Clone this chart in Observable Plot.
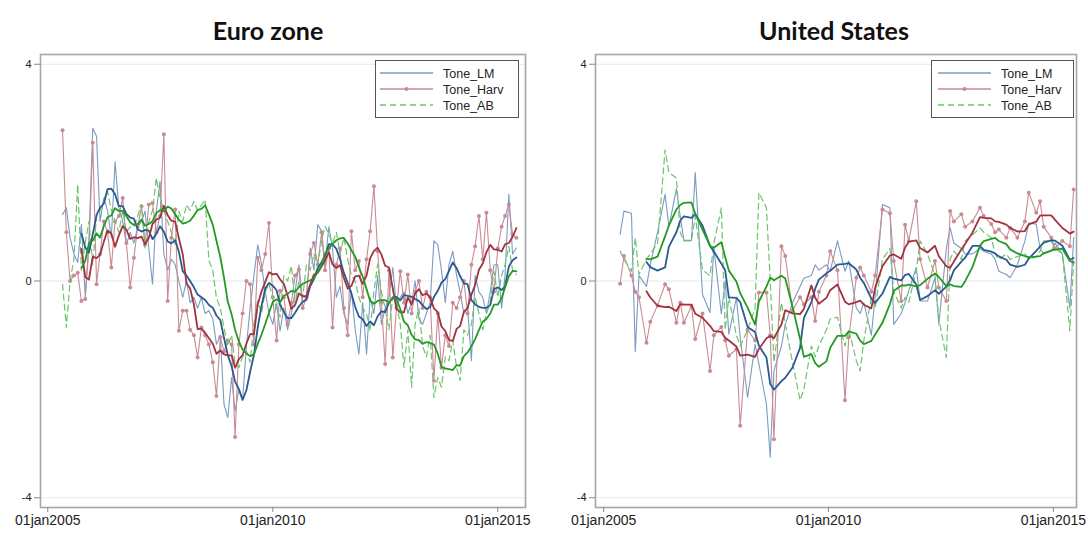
<!DOCTYPE html>
<html><head><meta charset="utf-8">
<script src="https://cdn.jsdelivr.net/npm/d3@7"></script>
<script src="https://cdn.jsdelivr.net/npm/@observablehq/plot@0.6"></script>
<style>
body{margin:0;background:#fff;}
#wrap{position:relative;width:1088px;height:533px;display:flex;}
.title{position:absolute;top:14px;line-height:32px;font-family:Lato,"Open Sans",sans-serif;font-weight:bold;font-size:25px;color:#111;text-align:center;width:300px;}
.legend{position:absolute;top:60px;}
svg{display:block;}
</style></head>
<body>
<div id="wrap"></div>
<script>
// ---- data -------------------------------------------------------------
const seriesNames = ["Tone_LM", "Tone_Harv", "Tone_AB"];
const panelTitles = ["Euro zone", "United States"];
const yTicks = [-4, 0, 4];
const xTickYears = [2005, 2010, 2015];

// Euro zone: monthly, May 2005 - Jun 2015
const euroLM = [1.23,1.35,0.8,0.5,0.34,1.04,-0.28,0.74,2.82,2.67,
1.1,1.53,1.3,0.8,2.2,1.35,1.1,0.67,0.9,0.7,
1.0,1.1,1.29,0.6,-0.06,1.29,1.84,0.5,0.2,0.4,
0.3,0.0,-0.3,0.0,-0.4,-0.3,-0.5,-0.3,-0.6,-0.55,
-0.7,-1.17,-1.0,-2.27,-2.52,-1.78,-2.4,-2.0,-2.2,-1.2,
-0.5,0.1,0.67,0.31,-0.2,-0.6,-0.8,-0.4,-0.92,-0.5,
-0.9,-0.6,-0.2,0.3,-0.4,-0.3,0.61,0.2,1.04,0.92,
0.3,1.0,0.6,-0.3,-0.1,-0.6,-0.8,-0.18,-0.9,-1.35,
-0.4,-1.35,-0.3,-0.6,0.1,-0.8,-0.5,-0.3,0.25,-0.5,
-0.3,-0.2,-0.6,-0.4,0.0,-0.7,-0.8,-0.6,-0.4,0.74,
0.67,0.2,-0.4,0.3,0.55,0.1,-0.2,-0.6,-0.5,-1.47,
0.1,-0.2,-0.3,-0.6,-0.2,0.3,0.3,-0.5,0.1,1.6,
0.5,0.61];
const euroHarv = [2.78,0.9,0.0,0.1,0.15,-0.37,-0.33,0.6,2.55,-0.06,
0.5,1.1,0.9,0.25,1.1,1.2,1.53,0.7,-0.12,0.43,
1.0,1.38,0.67,1.41,1.44,0.9,1.2,2.71,-0.37,0.8,
1.32,-0.92,-0.55,-0.55,-0.9,-1.0,-1.41,-0.86,-1.0,-1.17,
-1.5,-2.12,-1.04,-1.3,-1.1,-1.17,-2.88,-1.17,-0.6,0.0,
-0.06,-1.17,0.43,0.2,0.5,1.07,-0.3,-1.1,-0.18,-0.3,
-0.8,-0.4,0.1,0.21,-0.5,-0.3,0.5,0.7,0.3,0.9,
0.2,0.6,-0.86,0.3,0.6,-0.5,-1.0,0.92,0.2,0.37,
-0.3,0.4,0.92,1.75,0.55,-0.4,-1.53,0.2,-1.41,-0.5,
0.18,-0.4,0.12,-0.6,-0.2,0.0,-0.5,-0.2,-0.3,-1.84,
-0.6,-1.6,-1.0,-1.2,-0.4,-0.5,-0.3,0.0,-0.6,0.3,
0.64,1.2,0.4,1.26,0.2,-0.2,0.6,1.0,1.2,1.41,
0.86,0.8];
const euroAB = [-0.06,-0.86,0.0,0.4,1.78,0.2,0.7,1.1,0.3,1.2,
1.3,1.5,1.66,1.3,1.1,0.9,1.3,0.9,1.0,1.0,
1.2,1.41,0.61,1.1,1.3,1.9,1.53,1.3,1.1,0.9,
0.67,1.29,1.1,1.41,1.3,1.47,1.3,1.4,1.5,0.37,
0.2,-0.31,-0.5,-0.86,-1.2,-1.0,-1.53,-1.6,-1.4,-1.29,
-1.5,-0.8,-0.37,-0.6,-0.2,-0.06,-0.3,-0.5,-0.67,0.1,
0.0,0.28,-0.4,0.0,-0.3,0.3,0.2,0.5,0.3,0.74,
1.01,0.86,0.7,0.9,0.5,0.8,0.4,0.1,0.0,-0.3,
-0.5,-0.6,-0.92,-0.2,0.31,-0.2,-0.5,-0.9,-0.3,-0.4,
-0.8,-1.6,-0.9,-1.96,-0.8,-0.5,-1.2,-1.4,-1.0,-2.15,
-1.78,-1.96,-1.4,-1.47,-1.1,-1.6,-1.84,-0.9,-1.0,-0.8,
-0.3,-0.6,-0.9,-0.6,-0.4,0.18,-0.3,0.1,0.3,0.64,
0.2,0.12];

// United States: FOMC meetings, May 2005 - Jun 2015
const fomcMonths = [1, 3, 5, 6, 8, 9, 10, 12];
const usLM = [0.86,1.29,1.25,-1.3,0.1,-0.1,0.3,0.9,1.6,1.0,
1.7,1.2,0.75,0.75,2.0,-0.25,-0.58,0.61,-0.61,0.0,
-0.98,-0.31,-1.04,-2.15,-1.17,-1.53,-2.27,-3.25,-1.66,-1.2,
-0.8,-0.4,-0.1,0.05,0.1,0.3,0.2,0.3,0.18,0.74,
0.18,0.37,-0.5,-0.6,-0.4,-1.0,-0.3,1.41,1.35,-0.8,
-0.6,-0.4,-0.18,0.25,-0.37,-0.37,0.06,-0.8,0.6,0.98,
0.7,0.6,0.5,0.5,0.6,0.55,0.5,0.4,0.18,0.12,
0.06,0.3,0.74,1.07,1.05,0.6,0.5,0.55,0.7,0.5,
-0.5,0.8];
const usHarv = [-0.05,0.46,0.1,-0.2,-0.3,-1.14,-0.75,-0.45,-0.06,-0.15,
-0.77,-0.4,-0.77,-0.46,-1.07,-0.6,-1.66,-1.0,-0.85,-1.1,
-1.38,-1.26,-2.67,-0.9,-1.1,-0.21,-0.21,-1.0,-2.92,0.64,
0.46,-0.55,-0.3,-0.43,-0.3,-0.74,-0.2,0.1,0.55,0.2,
-2.2,-1.04,0.06,0.25,0.1,-0.2,0.1,1.32,1.25,0.37,
-0.37,1.04,0.74,1.47,0.4,-0.12,0.37,-0.12,-0.37,1.29,
1.1,1.23,1.0,1.1,1.35,1.2,1.05,0.9,0.95,0.8,
0.98,0.8,1.1,1.63,1.26,1.47,1.0,0.8,0.6,0.74,
0.64,1.69];
const usAB = [0.55,0.4,0.18,0.8,0.12,0.4,0.5,0.7,2.42,2.0,
1.9,0.9,0.74,0.74,1.2,0.2,0.1,0.7,1.35,-0.9,
-0.3,-1.0,-1.2,-0.9,-0.5,1.63,1.35,0.0,-1.5,-0.4,
-0.8,-1.5,-2.2,-2.0,-1.2,-1.4,-1.2,-0.9,-0.7,-0.67,
-1.2,-0.9,-1.47,-1.66,-1.1,-0.3,-0.5,0.4,0.6,-0.2,
-0.5,-0.3,-0.4,0.2,0.74,0.5,0.1,-0.7,-1.41,0.4,
0.55,0.4,0.74,0.85,0.98,0.9,0.8,0.5,0.4,0.5,
0.4,0.45,0.5,0.4,0.45,0.55,0.74,0.74,0.6,0.5,
-0.92,0.37];

// ---- dates ------------------------------------------------------------
const euroDates = d3.utcMonth.range(new Date(Date.UTC(2005, 4, 1)), new Date(Date.UTC(2015, 6, 1)));
const usDates = [];
for (let y = 2005; y <= 2015; y++) for (const mo of fomcMonths) {
  const d = new Date(Date.UTC(y, mo - 1, 15));
  if (d >= new Date(Date.UTC(2005, 4, 1)) && d <= new Date(Date.UTC(2015, 5, 30))) usDates.push(d);
}

// ---- styling ------------------------------------------------------------
const C = {
  lmRaw: "#7a9cc2", lm: "#2b5a91",
  harvRaw: "#c98b93", harv: "#a3323f",
  abRaw: "#6cc46c", ab: "#249a24"
};
const fmtX = d => d3.utcFormat("%d%b%Y")(d).toLowerCase();
const xTicks = xTickYears.map(y => new Date(Date.UTC(y, 0, 1)));

function rows(dates, values) { return dates.map((d, i) => ({date: d, value: values[i]})); }

function panel({lm, harv, ab, dates, domain, marginLeft, marginRight}) {
  const L = rows(dates, lm), H = rows(dates, harv), A = rows(dates, ab);
  const smooth = (data, opts) => Plot.lineY(data, Plot.windowY({k: 6, anchor: "end", reduce: "mean", strict: true}, {x: "date", y: "value", ...opts}));
  return Plot.plot({
    width: 544, height: 533,
    marginTop: 54, marginBottom: 26, marginLeft, marginRight,
    style: {fontFamily: "'Liberation Sans', Arial, sans-serif", background: "transparent", color: "#222"},
    x: {type: "utc", domain},
    y: {domain: [-4.18, 4.18]},
    marks: [
      Plot.ruleY(yTicks, {stroke: "#e2e9ee", strokeWidth: 1}),
      Plot.lineY(L, {x: "date", y: "value", stroke: C.lmRaw, strokeWidth: 1.1}),
      Plot.lineY(H, {x: "date", y: "value", stroke: C.harvRaw, strokeWidth: 1.1}),
      Plot.dot(H, {x: "date", y: "value", r: 2, fill: C.harvRaw, stroke: "none"}),
      Plot.lineY(A, {x: "date", y: "value", stroke: C.abRaw, strokeWidth: 1.2, strokeDasharray: "6,4"}),
      smooth(L, {stroke: C.lm, strokeWidth: 1.8}),
      smooth(H, {stroke: C.harv, strokeWidth: 1.8}),
      smooth(A, {stroke: C.ab, strokeWidth: 1.8}),
      Plot.frame({stroke: "#a6a6a6", strokeWidth: 1.6}),
      Plot.axisX({ticks: xTicks, tickFormat: fmtX, tickSize: 5, tickPadding: 3, fontSize: 14, label: null, stroke: "#888"}),
      Plot.axisY({ticks: yTicks, tickFormat: d => String(d), tickSize: 6, tickPadding: 3, fontSize: 11, label: null, stroke: "#888"})
    ]
  });
}

function legend(left, width, lineX0, lineX1, textX) {
  const ns = "http://www.w3.org/2000/svg";
  const svg = document.createElementNS(ns, "svg");
  svg.setAttribute("width", width); svg.setAttribute("height", 58);
  svg.setAttribute("class", "legend");
  svg.style.left = left + "px";
  const rect = document.createElementNS(ns, "rect");
  rect.setAttribute("x", 0.5); rect.setAttribute("y", 0.5);
  rect.setAttribute("width", width - 1); rect.setAttribute("height", 57);
  rect.setAttribute("fill", "#fff"); rect.setAttribute("stroke", "#555");
  svg.appendChild(rect);
  const styles = [
    {stroke: C.lmRaw, dash: null, dot: false},
    {stroke: C.harvRaw, dash: null, dot: true},
    {stroke: C.abRaw, dash: "6,4", dot: false}
  ];
  seriesNames.forEach((name, i) => {
    const y = 13 + 16 * i;
    const ln = document.createElementNS(ns, "line");
    ln.setAttribute("x1", lineX0); ln.setAttribute("x2", lineX1);
    ln.setAttribute("y1", y); ln.setAttribute("y2", y);
    ln.setAttribute("stroke", styles[i].stroke); ln.setAttribute("stroke-width", 1.5);
    if (styles[i].dash) ln.setAttribute("stroke-dasharray", styles[i].dash);
    svg.appendChild(ln);
    if (styles[i].dot) {
      const c = document.createElementNS(ns, "circle");
      c.setAttribute("cx", (lineX0 + lineX1) / 2); c.setAttribute("cy", y); c.setAttribute("r", 2);
      c.setAttribute("fill", styles[i].stroke);
      svg.appendChild(c);
    }
    const t = document.createElementNS(ns, "text");
    t.setAttribute("x", textX); t.setAttribute("y", y + 4.5);
    t.setAttribute("font-family", "'Liberation Sans', Arial, sans-serif");
    t.setAttribute("font-size", "12.5"); t.setAttribute("fill", "#222");
    t.textContent = name;
    svg.appendChild(t);
  });
  return svg;
}

const wrap = document.getElementById("wrap");
wrap.appendChild(panel({lm: euroLM, harv: euroHarv, ab: euroAB, dates: euroDates,
  domain: [new Date(Date.UTC(2004, 10, 3)), new Date(Date.UTC(2015, 7, 14))], marginLeft: 40, marginRight: 19}));
wrap.appendChild(panel({lm: usLM, harv: usHarv, ab: usAB, dates: usDates,
  domain: [new Date(Date.UTC(2004, 9, 27)), new Date(Date.UTC(2015, 6, 8))], marginLeft: 51, marginRight: 12}));

const t1 = document.createElement("div"); t1.className = "title"; t1.textContent = panelTitles[0];
t1.style.left = (268 - 150) + "px"; wrap.appendChild(t1);
const t2 = document.createElement("div"); t2.className = "title"; t2.textContent = panelTitles[1];
t2.style.left = (834 - 150) + "px"; wrap.appendChild(t2);

wrap.appendChild(legend(375, 144, 5, 58, 68));
wrap.appendChild(legend(931, 143, 7, 60, 70));
</script>
</body></html>
